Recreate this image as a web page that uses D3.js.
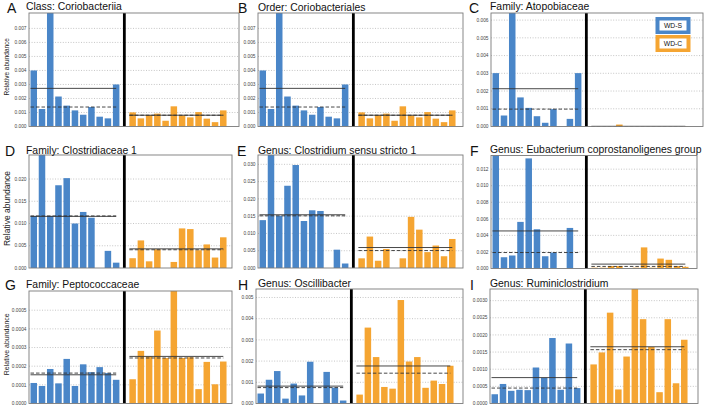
<!DOCTYPE html>
<html><head><meta charset="utf-8">
<script src="https://cdn.jsdelivr.net/npm/d3@7"></script>
<style>body{margin:0;background:#fff} svg{display:block;font-family:"Liberation Sans",Arial,Helvetica,sans-serif}</style>
</head><body><svg id="c" width="704" height="407"></svg>
<script>
// ---------- data ----------
const letters = ["A","B","C","D","E","F","G","H","I"];
const titles = ["Class: Coriobacteriia","Order: Coriobacteriales","Family: Atopobiaceae",
  "Family: Clostridiaceae 1","Genus: Clostridium sensu stricto 1","Genus: Eubacterium coprostanoligenes group",
  "Family: Peptococcaceae","Genus: Oscillibacter","Genus: Ruminiclostridium"];
const groups = ["WD-S","WD-C"];

const aS = [0.00400,0.00125,0.0134,0.00214,0.00149,0.00115,0.00084,0.00139,0.00070,0.00058,0.00300];
const aC = [0.00101,0.00058,0.00082,0.00092,0.00041,0.00144,0.00079,0.00065,0.00103,0.00056,0.00031,0.00115];
const bS = [0.00400,0.00125,0.0134,0.00214,0.00149,0.00115,0.00084,0.00139,0.00070,0.00058,0.00300];
const bC = [0.00101,0.00058,0.00082,0.00092,0.00041,0.00144,0.00079,0.00065,0.00103,0.00056,0.00031,0.00115];
const cS = [0.00301,0.00062,0.0119,0.00164,0.00105,0.00058,0.00021,0.00098,0,0.00043,0.00301];
const cC = [0,0,0,0.00011,0,0,0,0,0,0,0,0.00002];
const dS = [0.0117,0.0265,0.0117,0.0186,0.0202,0.0100,0.0126,0.0113,0,0.00385,0.0012];
const dC = [0.0022,0.0062,0.0015,0.0042,0,0.00136,0.0089,0.00875,0.0040,0.0053,0.00235,0.0069];
const eS = [0.01385,0.0335,0.0151,0.0238,0.0298,0.0136,0.0167,0.0165,0,0.0053,0.0013];
const eC = [0.0028,0.0091,0.0021,0.0055,0,0.0028,0.0148,0.0111,0.0046,0.0065,0.0034,0.0084];
const fS = [0.0150,0.00136,0.00157,0.00563,0.0133,0.00474,0.00148,0.00193,0,0.0049,0];
const fC = [0.0001,0.0001,0.0003,0.0003,0.00005,0.0001,0.00255,0.0001,0.0012,0.00105,0.0003,0.0002];
const gS = [0.000110,0.000094,0.000185,0.000108,0.000239,0.000094,0.000210,0.000168,0.000195,0.000163,0.000127];
const gC = [0.000130,0.000282,0.000253,0.000391,0.000244,0.000610,0.000244,0.000248,0.000077,0.000223,0.000103,0.000225];
const hS = [0.00047,0.00112,0.00153,0.00023,0.00094,0.00038,0.00197,0,0.00149,0.00075,0.00014];
const hC = [0.00042,0.00358,0.00219,0.00078,0.00070,0.00488,0.00198,0.00219,0.00074,0.00108,0.00092,0.00178];
const iS = [0.00027,0.00057,0.00037,0.00040,0.00039,0.00105,0.00075,0.00191,0.00040,0.00175,0.00045];
const iC = [0.00114,0.00149,0.00265,0.00041,0.00137,0.00345,0.00246,0.00165,0.00033,0.00246,0.00059,0.00186];

const ticks3 = [0,0.001,0.002,0.003,0.004,0.005,0.006,0.007];
const ticksC = [0,0.001,0.002,0.003,0.004,0.005,0.006];
const ticksD = [0,0.005,0.010,0.015,0.020];
const ticksE = [0,0.005,0.010,0.015,0.020,0.025,0.030];
const ticksF = [0,0.002,0.004,0.006,0.008,0.010,0.012];
const ticksG = [0,0.0001,0.0002,0.0003,0.0004,0.0005];
const ticksH = [0,0.001,0.002,0.003,0.004,0.005];
const ticksI = [0,0.0005,0.0010,0.0015,0.0020,0.0025,0.0030];
const yMax = [0.0081,0.0081,0.0064,0.0254,0.0327,0.01365,0.000603,0.0054,0.00334];
const tickFmt = [".3f",".3f",".3f",".3f",".3f",".3f",".4f",".3f",".4f"];

const seriesS = [aS,bS,cS,dS,eS,fS,gS,hS,iS];
const seriesC = [aC,bC,cC,dC,eC,fC,gC,hC,iC];
const tickSets = [ticks3,ticks3,ticksC,ticksD,ticksE,ticksF,ticksG,ticksH,ticksI];

// ---------- layout ----------
const layout = [
  {l:29,r:239,t:13,b:126.5},{l:258,r:463,t:13,b:126.5},{l:491,r:703,t:13,b:126.5},
  {l:29,r:232,t:155,b:268},{l:258,r:463,t:155,b:268},{l:491,r:697,t:155.5,b:268.5},
  {l:29,r:232,t:291,b:403.5},{l:256,r:463,t:289,b:403.5},{l:490,r:698,t:289,b:403.5}
];
const letterPos = [[7,12.5],[238,12.5],[469,12.5],[5,156],[237,156],[470,156],[5,289.5],[238,289.5],[470,289.5]];
const titlePos = [[26,10],[258,10.5],[490,10],[26,154],[258,153.5],[490,152.5],[26,287.5],[258,287],[490,287]];
const yTitleSize = [6.5,0,0,8.5,0,0,7,0,0];

const BLUE = "#4a86c8", ORANGE = "#f5a532";
const SLOT = 8.24, BW = 0.79;

const svg = d3.select("#c");
const defs = svg.append("defs");

layout.forEach((L, p) => {
  const g = svg.append("g");
  const x = d3.scaleLinear().domain([0, 24]).range([L.l + 1.5, L.l + 1.5 + 24 * SLOT]);
  const y = d3.scaleLinear().domain([0, yMax[p]]).range([L.b, L.t]);

  // grid
  g.selectAll(".grid").data(tickSets[p].slice(1)).join("line")
    .attr("x1", L.l).attr("x2", L.r).attr("y1", d => y(d)).attr("y2", d => y(d))
    .attr("stroke", "#b8b8b8").attr("stroke-width", 0.8).attr("stroke-dasharray", "1,1.6");

  // tick labels
  const fmt = d3.format(tickFmt[p]);
  g.selectAll(".tl").data(tickSets[p]).join("text")
    .attr("x", L.l - 2.5).attr("y", d => y(d)).attr("dy", "0.35em")
    .attr("text-anchor", "end").attr("font-size", 4.8).attr("fill", "#444")
    .text(d => fmt(d));

  // clip
  const cid = "clip" + p;
  defs.append("clipPath").attr("id", cid).append("rect")
    .attr("x", L.l).attr("y", L.t).attr("width", L.r - L.l).attr("height", L.b - L.t);
  const bars = g.append("g").attr("clip-path", `url(#${cid})`);

  const sets = [
    {vals: seriesS[p], off: 0, color: BLUE},
    {vals: seriesC[p], off: 12, color: ORANGE}
  ];
  sets.forEach(s => {
    bars.selectAll(null).data(s.vals).join("rect")
      .attr("x", (d, i) => x(i + s.off))
      .attr("width", x(BW) - x(0))
      .attr("y", d => y(d))
      .attr("height", d => Math.max(0, y(0) - y(d)))
      .attr("fill", s.color);
  });
  sets.forEach(s => {
    const x1 = x(s.off), x2 = x(s.off + s.vals.length - 1 + 0.4);
    const mean = d3.mean(s.vals), med = d3.median(s.vals);
    bars.append("line").attr("x1", x1).attr("x2", x2).attr("y1", y(mean)).attr("y2", y(mean))
      .attr("stroke", "#333").attr("stroke-width", 0.9);
    bars.append("line").attr("x1", x1).attr("x2", x2).attr("y1", y(med)).attr("y2", y(med))
      .attr("stroke", "#333").attr("stroke-width", 0.9).attr("stroke-dasharray", "3.5,2");
  });

  // divider
  g.append("line").attr("x1", x(11.39)).attr("x2", x(11.39)).attr("y1", L.t).attr("y2", L.b)
    .attr("stroke", "#000").attr("stroke-width", 2.8);

  // frame
  g.append("rect").attr("x", L.l).attr("y", L.t).attr("width", L.r - L.l).attr("height", L.b - L.t)
    .attr("fill", "none").attr("stroke", "#7a7a7a").attr("stroke-width", 0.9);

  // letter + title
  svg.append("text").attr("x", letterPos[p][0]).attr("y", letterPos[p][1])
    .attr("font-size", 14).attr("fill", "#111").text(letters[p]);
  svg.append("text").attr("x", titlePos[p][0]).attr("y", titlePos[p][1])
    .attr("font-size", 10.4).attr("fill", "#111").text(titles[p]);

  if (yTitleSize[p] > 0) {
    svg.append("text")
      .attr("transform", `translate(${L.l - 22},${(L.t + L.b) / 2 - 3}) rotate(-90)`)
      .attr("text-anchor", "middle").attr("dy", "0.35em")
      .attr("font-size", yTitleSize[p]).attr("fill", "#222").text("Relative abundance");
  }

  // legend in panel C
  if (p === 2) {
    const lg = svg.append("g");
    const cols = [BLUE, ORANGE];
    groups.forEach((name, k) => {
      const top = L.t + 4 + k * 18;
      lg.append("rect").attr("x", L.r - 47.5).attr("y", top).attr("width", 35).attr("height", 17)
        .attr("fill", cols[k]);
      lg.append("rect").attr("x", L.r - 43.5).attr("y", top + 3.5).attr("width", 27).attr("height", 10)
        .attr("fill", "#fff");
      lg.append("text").attr("x", L.r - 30).attr("y", top + 8.5).attr("dy", "0.35em")
        .attr("text-anchor", "middle").attr("font-size", 6.8).attr("fill", "#111").text(name);
    });
  }
});
</script></body></html>
